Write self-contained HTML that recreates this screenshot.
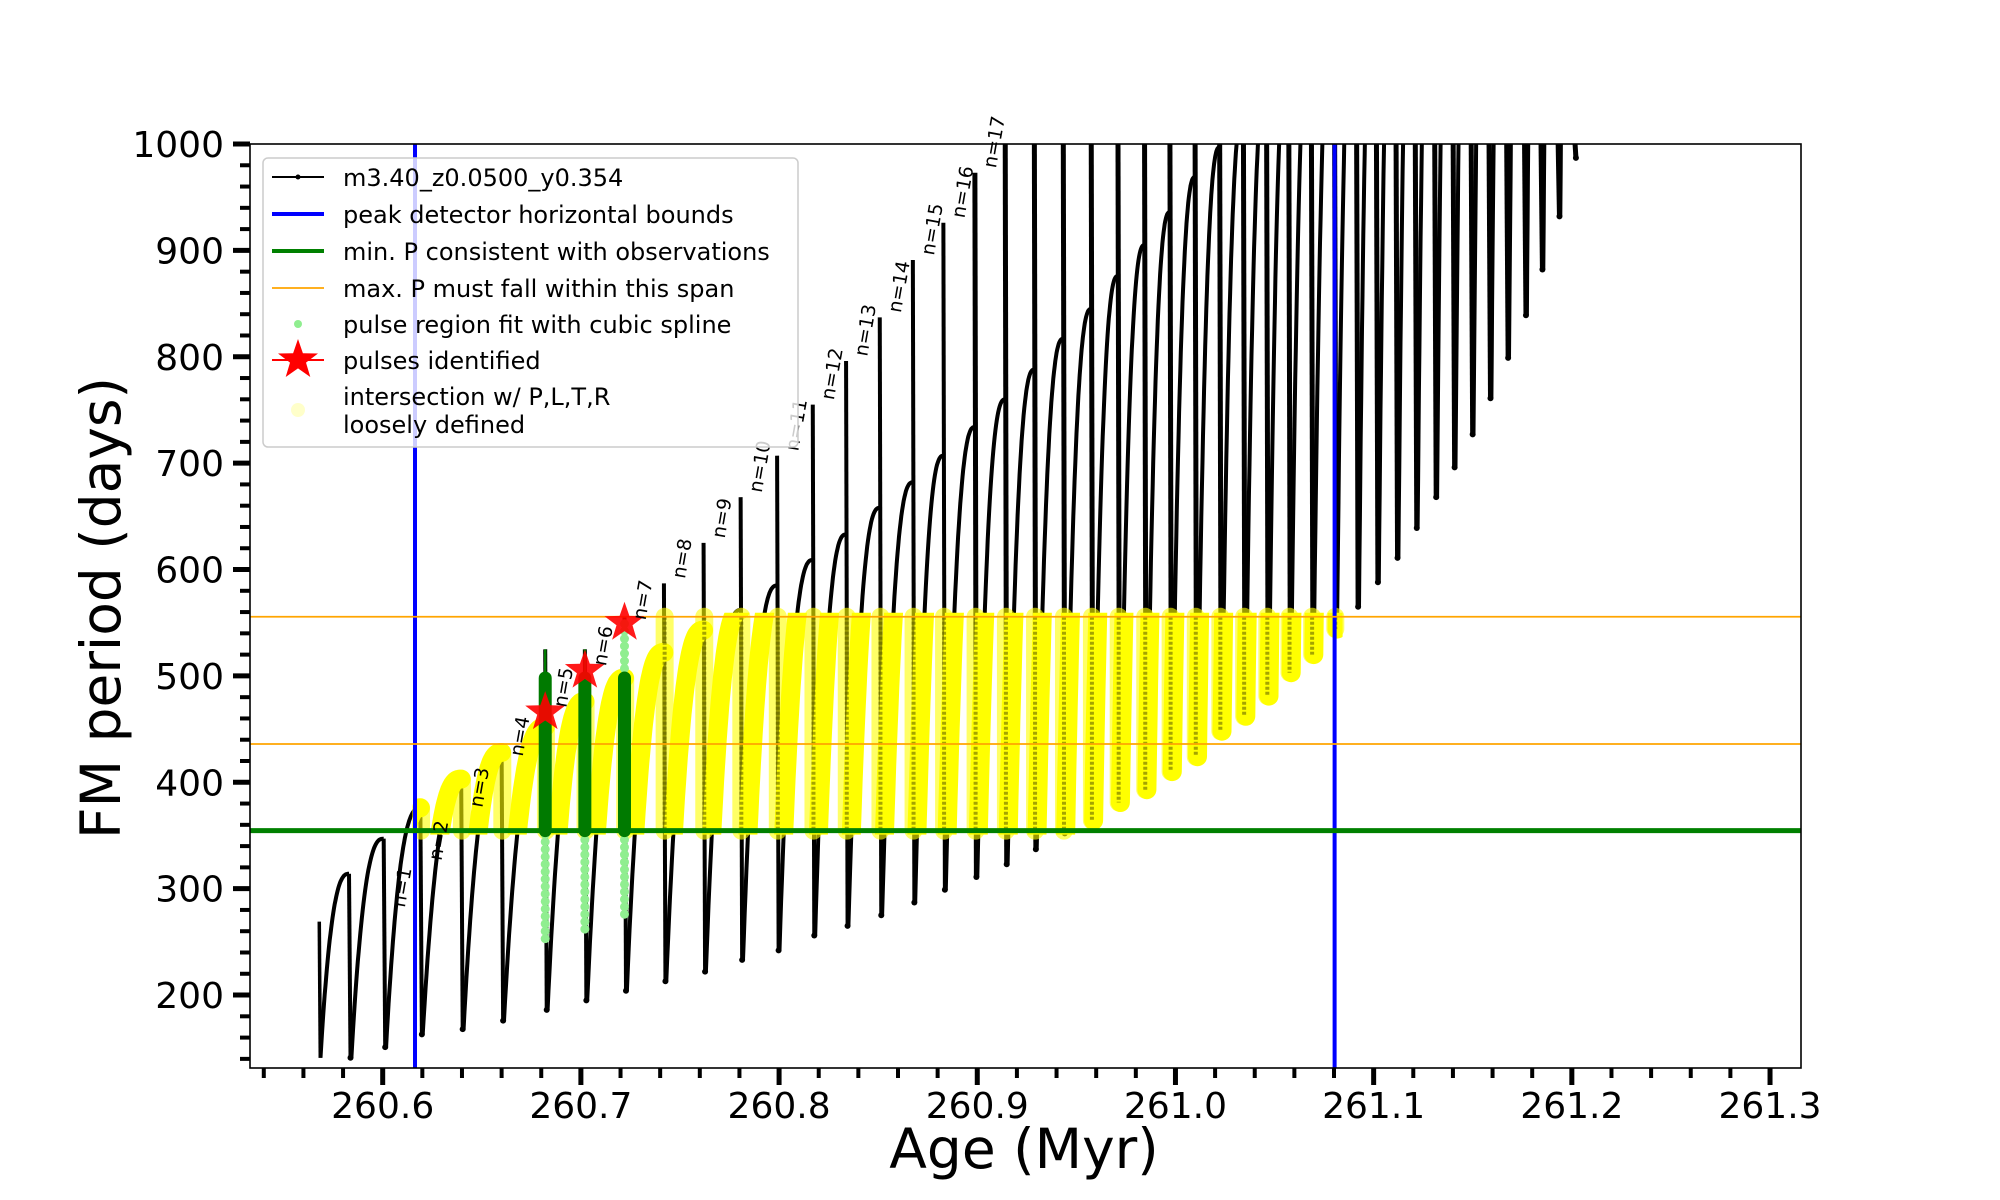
<!DOCTYPE html>
<html><head><meta charset="utf-8"><style>
html,body{margin:0;padding:0;background:#fff;}
svg{display:block;font-family:"DejaVu Sans","Liberation Sans",sans-serif;}
</style></head><body>
<svg id="chart" width="2000" height="1200" viewBox="0 0 2000 1200" xmlns="http://www.w3.org/2000/svg">
<defs><clipPath id="plotclip"><rect x="250" y="144" width="1551" height="924"/></clipPath></defs>
<rect x="0" y="0" width="2000" height="1200" fill="#fff"/>
<g id="plot" clip-path="url(#plotclip)"></g>
<g id="labels"></g>
<rect x="250" y="144" width="1551" height="924" fill="none" stroke="#000" stroke-width="1.6"/>
<g id="axes"></g>
<text x="1024" y="1168" font-size="55" text-anchor="middle">Age (Myr)</text>
<text x="0" y="0" font-size="55" text-anchor="middle" transform="translate(120,608) rotate(-90)">FM period (days)</text>
<g id="legend">
<rect x="263" y="158" width="535" height="289" rx="5" fill="#fff" fill-opacity="0.8" stroke="#ccc" stroke-width="1.5"/>
<g><line x1="272" y1="177" x2="324" y2="177" stroke="#000" stroke-width="2"/><circle cx="298" cy="177" r="2.5" fill="#000"/><text x="343" y="186" font-size="24">m3.40_z0.0500_y0.354</text></g>
<g><line x1="272" y1="214" x2="324" y2="214" stroke="#0000ff" stroke-width="4"/><text x="343" y="223" font-size="24">peak detector horizontal bounds</text></g>
<g><line x1="272" y1="251" x2="324" y2="251" stroke="#008000" stroke-width="4"/><text x="343" y="260" font-size="24">min. P consistent with observations</text></g>
<g><line x1="272" y1="288" x2="324" y2="288" stroke="#ffa500" stroke-width="1.8"/><text x="343" y="297" font-size="24">max. P must fall within this span</text></g>
<g><circle cx="298" cy="324" r="4" fill="#90ee90"/><text x="343" y="333" font-size="24">pulse region fit with cubic spline</text></g>
<g><line x1="272" y1="360" x2="324" y2="360" stroke="#ff0000" stroke-width="2"/><polygon id="legstar" fill="#ff0000"/><text x="343" y="369" font-size="24">pulses identified</text></g>
<g><circle cx="298" cy="410" r="7" fill="#ffff66" fill-opacity="0.35"/><text x="343" y="405" font-size="24">intersection w/ P,L,T,R</text><text x="343" y="433" font-size="24">loosely defined</text></g>
</g>
</svg>
<script>
// ---- data ----
const startAge = 260.568;
const startP = 269;
const peakAge = [260.583,260.6005,260.619,260.6396,260.660,260.682,260.702,260.722,260.7419,260.7619,260.7806,260.799,260.817,260.8338,260.8508,260.8675,260.8829,260.8988,260.9141,260.9288,260.9434,260.9575,260.9710,260.9844,260.9972,261.0099,261.0223,261.0343,261.0460,261.0572,261.0686,261.0803,261.0914,261.1014,261.1113,261.1210,261.1308,261.1401,261.1492,261.1582,261.1671,261.1761,261.1844,261.1930,261.2013];
const peakP = [314,347,376,403,428,452,476,498,522,543,562,585,609,633,658,682,707,734,760,788,817,845,876,905,936,969,997,1030,1062,1095,1128,1160,1195,1230,1265,1300,1335,1370,1405,1440,1475,1510,1545,1580,1615];
const spikeP = [314,347,376,403,428,525,525,555,587,625,668,707,755,796,837,891,926,973,1100,1100,1100,1100,1100,1100,1100,1100,1100,1100,1100,1100,1100,1100,1100,1100,1100,1100,1100,1100,1100,1100,1100,1100,1100,1100,1100];
const minP = [141,151,163,168,176,186,195,204,213,222,233,242,256,265,275,287,299,311,323,337,352,364,381,393,410,424,448,462,481,503,520,544,565,588,611,639,668,696,727,761,799,839,882,932,987];
const labelN = [1,2,3,4,5,6,7,8,9,10,11,12,13,14,15,16,17];
const labelP = [278,322,372,420,466,505,548,587,625,668,707,755,796,837,891,926,973];
const pulseIdx = [5,6,7];
const pulseTop = [498,498,498];
const splineLow = [253,262,276];
const splineHigh = [498,498,550];
const starP = [466,505,550];
const boundAges = [260.6163,261.0803];
const minPeriod = 354.5;
const maxSpan = [555.6,436];
const xTicks = [260.6,260.7,260.8,260.9,261.0,261.1,261.2,261.3];
const xTickLabels = ["260.6","260.7","260.8","260.9","261.0","261.1","261.2","261.3"];
const yTicks = [200,300,400,500,600,700,800,900,1000];
const yTickLabels = ["200","300","400","500","600","700","800","900","1000"];

// ---- scales ----
const X = a => 382.7 + (a - 260.6) * 1981.9;
const Y = p => 144 + (1000 - p) * 1.0638;
const NS = "http://www.w3.org/2000/svg";
function mk(tag, parent, attrs){const e=document.createElementNS(NS,tag);for(const k in attrs)e.setAttribute(k,attrs[k]);parent.appendChild(e);return e;}
const plot = document.getElementById('plot');
const axes = document.getElementById('axes');
const labels = document.getElementById('labels');

// ---- build curve (arcs only) ----
const dw = 0.0012;
let arcPts = [];
let prevA = startAge+0.0006, prevMin = 141;
let drops = [];
for(let i=0;i<peakAge.length;i++){
  const a0 = prevA, a1 = peakAge[i], p0 = prevMin, p1 = peakP[i];
  let seg=[];
  for(let k=0;k<=40;k++){const u=k/40;const f=1-Math.pow(1-u,2.6);seg.push([a0+(a1-a0)*u, p0+(p1-p0)*f]);}
  arcPts.push(seg);
  drops.push([a1, spikeP[i], minP[i], i]);
  prevA = a1+dw; prevMin = minP[i];
}
const arcD = arcPts.map(seg=>seg.map((q,i)=>(i?'L':'M')+X(q[0]).toFixed(1)+','+Y(q[1]).toFixed(1)).join('')).join('');

{const l = mk('line', plot, {x1:X(startAge), y1:Y(startP), x2:X(startAge)+1, y2:Y(minP[0]), stroke:'#000', 'stroke-width':3.5});

}
const curve = mk('path', plot, {d:arcD, fill:'none', stroke:'#000', 'stroke-width':4, 'stroke-linejoin':'round'});


drops.forEach((q,i)=>{
  const l = mk('line', plot, {x1:X(q[0]), y1:Y(Math.min(q[1],1010)), x2:X(q[0])+1.5, y2:Y(q[2]), stroke:'#000', 'stroke-width': i>16?5:4});
  
  
  const m = mk('circle', plot, {cx:X(q[0])+1.5, cy:Y(q[2]), r:3, fill:'#000'});
  
  
});

// yellow intersection band
const defs = document.querySelector('defs');
const cp2 = mk('clipPath', defs, {id:'bandclip2'});
mk('rect', cp2, {x:X(boundAges[0]), y:Y(maxSpan[0])-4, width:X(boundAges[1])-X(boundAges[0])+8, height:Y(minPeriod)-Y(maxSpan[0])+8});
const yb = mk('path', plot, {d:arcD, fill:'none', stroke:'#ffff00', 'stroke-width':19, 'stroke-linecap':'round','stroke-linejoin':'round','clip-path':'url(#bandclip2)'});


drops.forEach(q=>{
  const i=q[3];
  const hi = i<=7 ? peakP[i] : q[1];
  const top=Math.min(hi,maxSpan[0]), bot=Math.max(q[2],minPeriod);
  if(q[0]<boundAges[0]||q[0]>boundAges[1]+0.001||bot>=top) return;
  const l = mk('line', plot, {x1:X(q[0])+0.7, y1:Y(top), x2:X(q[0])+0.7, y2:Y(bot), stroke:'#ffff00', 'stroke-opacity':0.6, 'stroke-width':18, 'stroke-linecap':'round'});
  
  
  if(i>=8){
    const c = mk('line', plot, {x1:X(q[0])+0.7, y1:Y(top), x2:X(q[0])+0.7, y2:Y(bot), stroke:'#5a5a00', 'stroke-opacity':0.55, 'stroke-width':4, 'stroke-dasharray':'3 2'});
    
    
  }
});

// reference lines
boundAges.forEach(a=>{
  const l = mk('line', plot, {x1:X(a), y1:144, x2:X(a), y2:1068, stroke:'#0000ff', 'stroke-width':4});
  
  
});
{const l = mk('line', plot, {x1:250, y1:Y(minPeriod), x2:1801, y2:Y(minPeriod), stroke:'#008000', 'stroke-width':5});

}
maxSpan.forEach(p=>{
  const l = mk('line', plot, {x1:250, y1:Y(p), x2:1801, y2:Y(p), stroke:'#ffa500', 'stroke-width':1.8});
  
  
});

// identified pulses
function starPts(cx,cy,R){const r=R*0.4;let s=[];for(let k=0;k<10;k++){const ang=-Math.PI/2+k*Math.PI/5;const rr=k%2?r:R;s.push((cx+rr*Math.cos(ang)).toFixed(1)+','+(cy+rr*Math.sin(ang)).toFixed(1));}return s.join(' ');}
pulseIdx.forEach((idx,j)=>{
  const a = peakAge[idx];
  for(let p=splineLow[j]; p<=splineHigh[j]; p+=7){
    const c = mk('circle', plot, {cx:X(a), cy:Y(p), r:4.5, fill:'#90ee90'});
    
    
  }
  const g = mk('line', plot, {x1:X(a), y1:Y(pulseTop[j]), x2:X(a), y2:Y(minPeriod), stroke:'#007a00', 'stroke-width':13, 'stroke-linecap':'round'});
  
  
  if(j<2){const sp = mk('line', plot, {x1:X(a), y1:Y(525), x2:X(a), y2:Y(pulseTop[j]), stroke:'#007a00', 'stroke-width':2.5});
  
  }
  const s = mk('polygon', plot, {points:starPts(X(a), Y(starP[j]), 21), fill:'#ff0000', 'fill-opacity':0.9});
  
  
});

// n labels (not clipped)
labelN.forEach((n,i)=>{
  const idx = n; const a = peakAge[idx];
  const x = X(a)+21, y = Y(labelP[i])-4;
  const t = mk('text', labels, {x:0, y:0, 'font-size':19, transform:`translate(${x.toFixed(1)},${y.toFixed(1)}) rotate(-80)`, fill:'#000'});
  t.textContent = 'n='+n;
  
  
});

// ticks
xTicks.forEach((v,i)=>{
  const x=X(v);
  const l = mk('line', axes, {x1:x, y1:1068, x2:x, y2:1085, stroke:'#000', 'stroke-width':5});
  
  
  const t = mk('text', axes, {x:x, y:1118, 'font-size':36, 'text-anchor':'middle'});
  t.textContent = xTickLabels[i];
  
  
});
for(let k=0;k<39;k++){
  const v = 260.54 + k*0.02;
  if(Math.abs((v*10)-Math.round(v*10))<1e-6) continue;
  const l = mk('line', axes, {x1:X(v), y1:1068, x2:X(v), y2:1078, stroke:'#000', 'stroke-width':4});
  
  
}
yTicks.forEach((v,i)=>{
  const y=Y(v);
  const l = mk('line', axes, {x1:233, y1:y, x2:250, y2:y, stroke:'#000', 'stroke-width':5});
  
  
  const t = mk('text', axes, {x:224, y:y+13, 'font-size':36, 'text-anchor':'end'});
  t.textContent = yTickLabels[i];
  
  
});
for(let v=140; v<1000; v+=20){
  if(v%100===0) continue;
  const l = mk('line', axes, {x1:240, y1:Y(v), x2:250, y2:Y(v), stroke:'#000', 'stroke-width':4});
  
  
}
document.getElementById('legstar').setAttribute('points', starPts(298,360,21));
document.getElementById('chart').appendChild(document.getElementById('legend'));
</script>
</body></html>
